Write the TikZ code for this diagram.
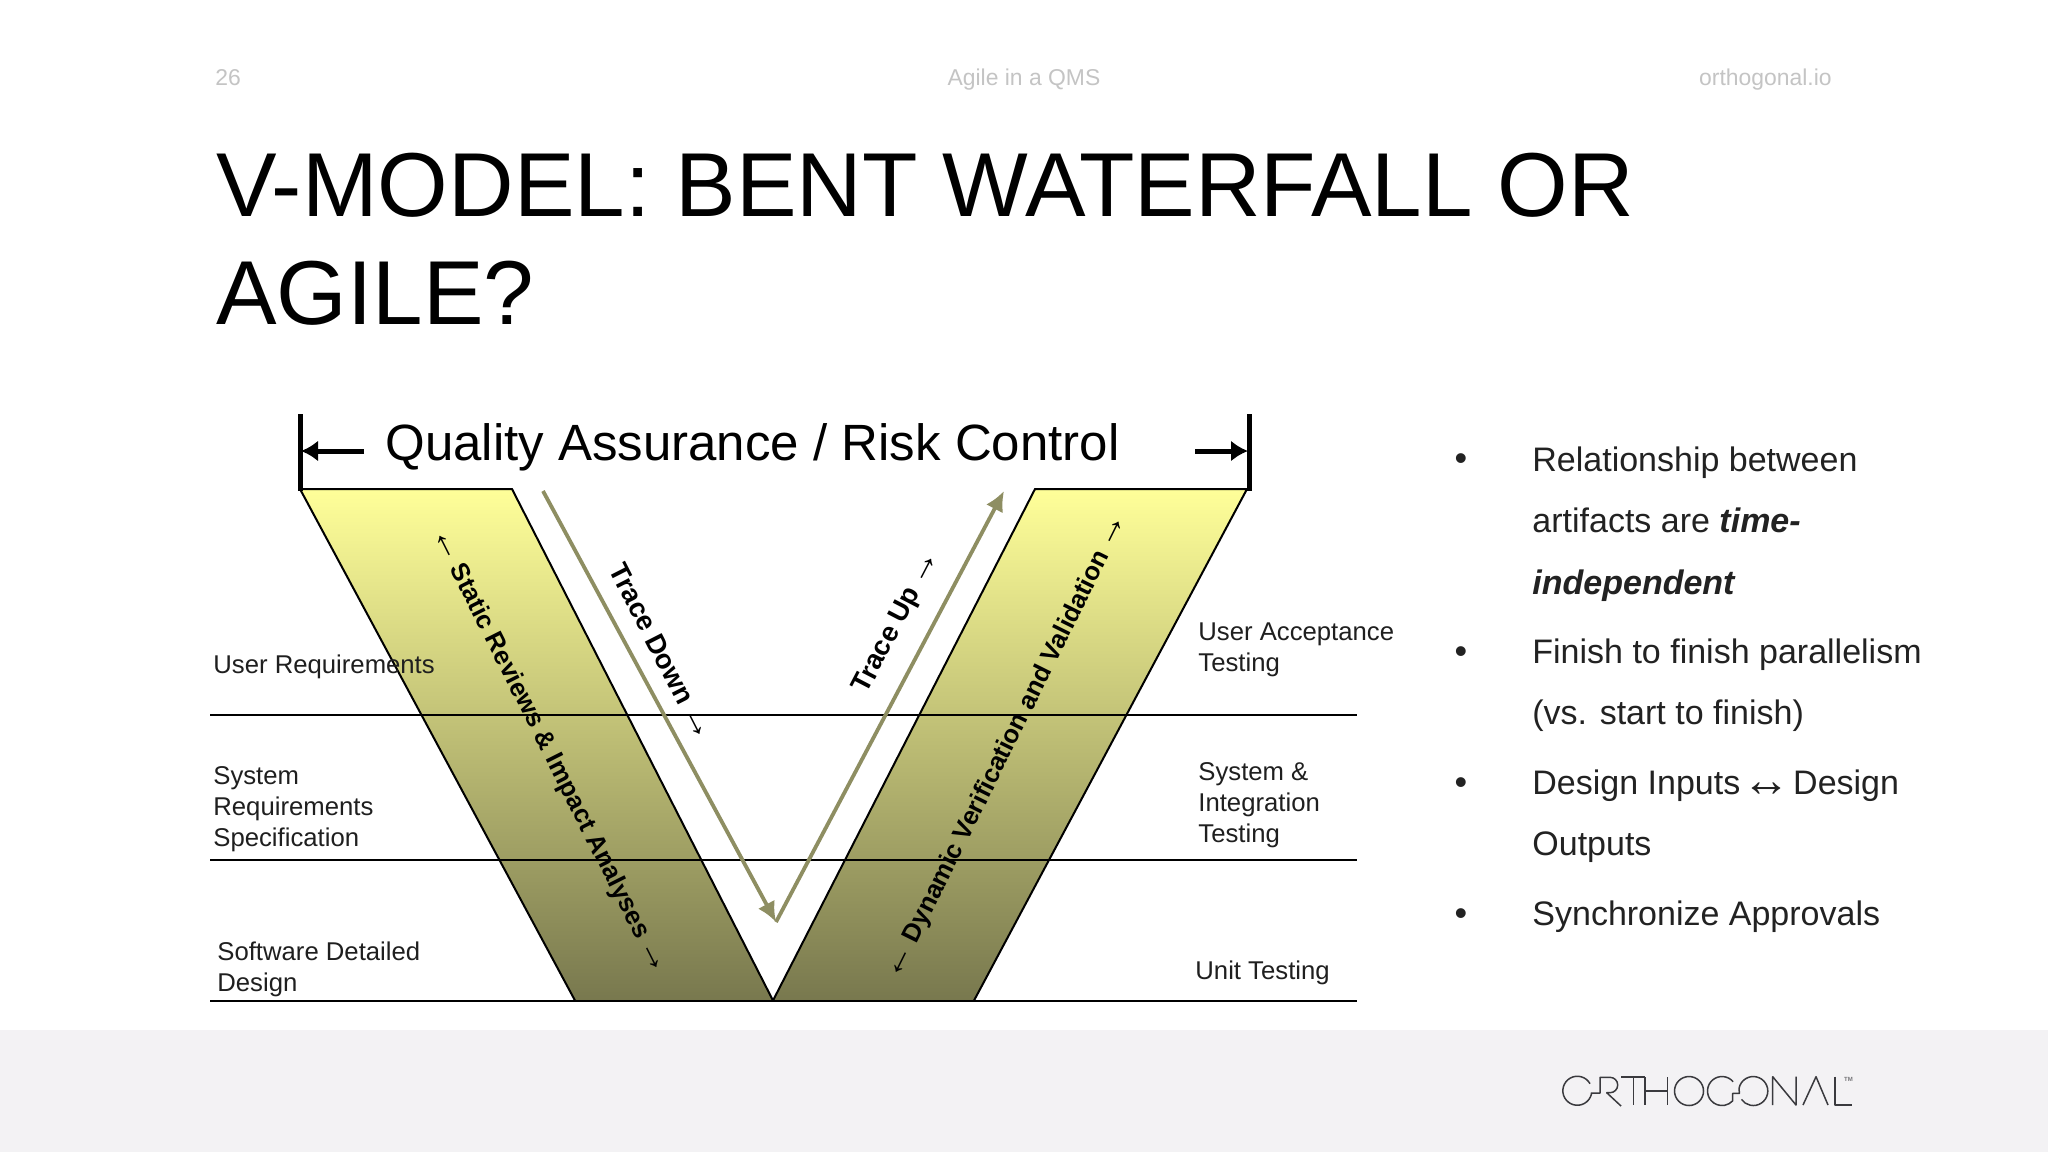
\documentclass[tikz,border=0pt]{standalone}
\usepackage{fontspec}
\usetikzlibrary{arrows.meta}
\setmainfont{Liberation Sans}
\definecolor{hdr}{HTML}{C4C4C4}
\definecolor{foot}{HTML}{F3F2F4}
\definecolor{trace}{HTML}{8E8E62}
\definecolor{ink}{HTML}{222222}
\definecolor{logo}{HTML}{3A3A3E}
\definecolor{bandtop}{HTML}{FFFF99}
\definecolor{bandmid}{HTML}{CCCC7E}
\definecolor{bandbot}{HTML}{78784E}
\newcommand{\smallarr}[1]{{\fontsize{18}{16}\mdseries\selectfont\kern-1pt #1\kern-1pt}}
\tikzset{
  px/.style={x=0.5pt,y=-0.5pt},
  bandfill/.style={top color=bandtop,middle color=bandmid,bottom color=bandbot,draw=none},
  edge/.style={draw=black,line width=1pt},
  rule/.style={draw=black,line width=1pt},
  bar/.style={draw=black,line width=2.5pt},
  bigarrow/.style={draw=black,line width=2.5pt,-{Latex[length=8.5pt,width=10.5pt]}},
  tracearrow/.style={draw=trace,line width=1.9pt,-{Latex[length=10pt,width=9.5pt]}},
  hdrtext/.style={text=hdr,font=\fontsize{11.45}{14}\selectfont,inner sep=0pt},
  title/.style={text=black,font=\fontsize{45.4}{56}\selectfont,inner sep=0pt,anchor=base west},
  lab/.style={text=black!88,font=\fontsize{12.85}{15.3}\selectfont,inner sep=0pt,anchor=base west,align=left},
  slantlong/.style={text=black,font=\fontsize{12.85}{16}\bfseries\selectfont,inner sep=0pt},
  slantshort/.style={text=black,font=\fontsize{13.7}{16}\bfseries\selectfont,inner sep=0pt},
  bul/.style={text=ink,font=\fontsize{17}{20}\selectfont,inner sep=0pt,anchor=base west},
  dot/.style={text=ink,font=\fontsize{18}{24}\selectfont,inner sep=0pt},
  logoline/.style={draw=logo,line width=0.75pt,line join=round}
}
\begin{document}
\begin{tikzpicture}[px]
\useasboundingbox (0,0) rectangle (2048,1152);
\fill[white] (0,0) rectangle (2048,1152);
\fill[foot] (0,1030) rectangle (2048,1152);
% header
\node[hdrtext,anchor=base west] (num) at (215,85) {26};
\node[hdrtext,anchor=base] (mid) at (1024,85) {Agile in a QMS};
\node[hdrtext,anchor=base east] (site) at (1832,85) {orthogonal.io};
\node[title] (t1) at (216,216) {V-MODEL: BENT WATERFALL OR};
\node[title] (t2) at (216,324) {AGILE?};
% bands
\coordinate (LT1) at (300,489); \coordinate (LT2) at (512,489);
\coordinate (LB1) at (575,1000.5); \coordinate (AP) at (773,1000.5);
\coordinate (RT1) at (1035,489); \coordinate (RT2) at (1247,489);
\coordinate (RB2) at (974,1000.5);
\path[bandfill] (LT1)--(LT2)--(AP)--(LB1)--cycle;
\path[bandfill] (RT1)--(RT2)--(RB2)--(AP)--cycle;
\draw[edge] (LB1)--(LT1)--(LT2)--(AP);
\draw[edge] (AP)--(RT1)--(RT2)--(RB2);
% rules
\coordinate (A1) at (210,714.5); \coordinate (A2) at (1357,714.5);
\coordinate (B1) at (210,859.5); \coordinate (B2) at (1357,859.5);
\coordinate (C1) at (210,1000.5); \coordinate (C2) at (1357,1000.5);
\draw[rule] (A1)--(A2); \draw[rule] (B1)--(B2); \draw[rule] (C1)--(C2);
% bars and arrows
\coordinate (V1a) at (300,414); \coordinate (V1b) at (300,491);
\coordinate (V2a) at (1249,414); \coordinate (V2b) at (1249,491);
\draw[bar] (V1a)--(V1b); \draw[bar] (V2a)--(V2b);
\coordinate (Aa) at (364,451); \coordinate (Ab) at (301,451);
\coordinate (Ac) at (1195,451); \coordinate (Ad) at (1248,451);
\draw[bigarrow] (Aa)--(Ab); \draw[bigarrow] (Ac)--(Ad);
\node[text=black,font=\fontsize{25.5}{30}\selectfont,inner sep=0pt,anchor=base west] (qa) at (385,460) {Quality Assurance / Risk Control};
% trace arrows
\coordinate (Ta) at (543,491); \coordinate (Tb) at (776,922);
\coordinate (Tc) at (1004,491);
\draw[tracearrow] (Ta)--(Tb);
\draw[tracearrow] (Tb)--(Tc);
% labels (base is the last line)
\node[lab] (ur) at (213,673) {User Requirements};
\node[lab] (sr) at (213,846) {System\\Requirements\\Specification};
\node[lab] (sd) at (217,991) {Software Detailed\\Design};
\node[lab] (ua) at (1198,671) {User Acceptance\\Testing};
\node[lab] (si) at (1198,842) {System \&\\Integration\\Testing};
\node[lab] (ut) at (1195,979) {Unit Testing};
% slanted
\node[slantlong,rotate=-63.3] (st) at (549,751.5) {\smallarr{←} Static Reviews \& Impact Analyses \smallarr{→}};
\node[slantshort,rotate=-63] (td) at (661,651.5) {Trace Down \smallarr{→}};
\node[slantshort,rotate=62.5] (tu) at (897,623) {Trace Up \smallarr{→}};
\node[slantlong,rotate=63.6] (dv) at (1007,747) {\smallarr{←} Dynamic Verification and Validation \smallarr{→}};
% bullets
\foreach \n/\y in {a/462,b/655,c/786,d/917}{\node[dot] (dot\n) at (1461,\y) {•};}
\node[bul] (b1) at (1532,471) {Relationship between};
\node[bul] (b2) at (1532,532) {artifacts are \textbf{\textit{time-}}};
\node[bul] (b3) at (1532,594) {\textbf{\textit{independent}}};
\node[bul] (b4) at (1532,663) {Finish to finish parallelism};
\node[bul] (b5) at (1532,724) {(vs. start to finish)};
\node[bul] (b6) at (1532,794) {Design Inputs {\fontsize{24}{20}\selectfont\kern-3.5pt\raisebox{-1pt}{↔}\kern-3.5pt} Design};
\node[bul] (b7) at (1532,855) {Outputs};
\node[bul] (b8) at (1532,925) {Synchronize Approvals};
% logo
\draw[logoline] (1590,1083.7) arc[start angle=-29,end angle=-347,radius=14.5] -- (1591.4,1093) -- (1600,1093) -- (1600,1077.3) -- (1610,1077.3) arc[start angle=-90,end angle=90,radius=7.7] -- (1606.7,1092.7) -- (1621,1106);
\draw[logoline] (1621,1077) -- (1645,1077);
\draw[logoline] (1633.3,1077) -- (1633.3,1105);
\draw[logoline] (1645,1077) -- (1645,1105);
\draw[logoline] (1667.7,1077) -- (1667.7,1105);
\draw[logoline] (1645,1091) -- (1667.7,1091);
\draw[logoline] (1689,1091) circle[radius=14.5];
\draw[logoline] (1733.1,1081.7) arc[start angle=-40,end angle=-317,radius=14.5] -- (1732.7,1093.3) -- (1739.3,1093.3) -- (1739.1,1088) arc[start angle=-168,end angle=145,radius=14.5];
\draw[logoline] (1772.7,1105) -- (1772.7,1076.7) -- (1796,1105) -- (1796,1076.7);
\draw[logoline] (1803,1105) -- (1816,1076.7) -- (1828,1105);
\draw[logoline] (1835,1076.7) -- (1835,1105) -- (1852,1105);
\node[text=logo!70,font=\fontsize{3}{4}\bfseries\selectfont,inner sep=0pt] (tm) at (1848.5,1079) {TM};
\end{tikzpicture}
\end{document}
